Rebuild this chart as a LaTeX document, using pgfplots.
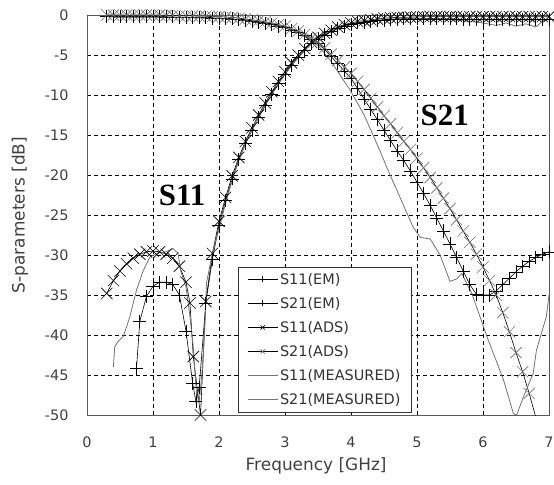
\documentclass[border=0pt]{standalone}
\usepackage{fontspec}
\setmainfont{DejaVu Sans}
\newfontfamily\anno{Liberation Serif}
\usepackage{pgfplots}
\pgfplotsset{compat=1.18}

\begin{document}
\begin{tikzpicture}
\begin{axis}[
  scale only axis, width=462bp, height=400bp,
  xmin=0, xmax=7, ymin=-50, ymax=0,
  xtick={0,1,...,7}, ytick={-50,-45,...,0},
  major tick length=0pt,
  /pgf/number format/assume math mode=true,
  tick label style={font=\fontsize{14.5}{16}\selectfont, text=black!75},
  xticklabel style={anchor=center, yshift=-27bp},
  yticklabel style={anchor=east, xshift=-15bp},
  xlabel={Frequency [GHz]}, ylabel={S-parameters [dB]},
  label style={font=\fontsize{17}{19}\selectfont, text=black!75},
  xlabel style={at={(axis description cs:0.496,-0.127)}, anchor=center},
  ylabel style={at={(axis description cs:-0.145,0.5)}, anchor=center},
  grid=major, major grid style={black, line width=0.6bp, dash pattern=on 4bp off 3bp},
  axis line style={black!65, line width=0.8bp},
  legend style={at={(axis description cs:0.327,0.0075)}, anchor=south west,
    draw=black!80, fill=white, font=\fontsize{14.5}{16}\selectfont, text=black!80,
    row sep=7.6bp, inner xsep=9bp, inner ysep=4bp},
  legend cell align=left,
  legend image code/.code={\draw[mark repeat=2,mark phase=2,#1,mark size=3bp]
    plot coordinates {(0bp,0bp) (15bp,0bp) (30bp,0bp)};},
]
% S11(EM)
\addplot[black, line width=0.6bp, mark=+, mark size=6.5bp] table {
0.75 -44.2
0.8 -38.3
0.9 -35.2
1.0 -33.9
1.1 -33.4
1.2 -33.4
1.3 -33.7
1.4 -35.0
1.5 -39.5
1.6 -46.0
1.65 -48.3
1.7 -46.5
1.8 -36.0
1.9 -30.5
2.0 -26.3
2.1 -23.2
2.2 -20.5
2.3 -18.1
2.4 -16.1
2.5 -14.4
2.6 -12.8
2.7 -11.3
2.8 -9.9
2.9 -8.6
3.0 -7.4
3.1 -6.3
3.2 -5.3
3.3 -4.4
3.4 -3.6
3.5 -3.0
3.6 -2.5
3.7 -2.1
3.8 -1.7
3.9 -1.4
4.0 -1.2
4.1 -1.0
4.2 -0.9
4.3 -0.8
4.4 -0.7
4.5 -0.65
4.6 -0.6
4.7 -0.55
4.8 -0.5
4.9 -0.5
5.0 -0.5
5.1 -0.5
5.2 -0.5
5.3 -0.5
5.4 -0.5
5.5 -0.5
5.6 -0.5
5.7 -0.55
5.8 -0.55
5.9 -0.6
6.0 -0.6
6.1 -0.6
6.2 -0.6
6.3 -0.6
6.4 -0.6
6.5 -0.6
6.6 -0.6
6.7 -0.6
6.8 -0.6
6.9 -0.6
7.0 -0.6
};
\addlegendentry{S11(EM)}
% S21(EM)
\addplot[black, line width=0.6bp, mark=+, mark size=6.5bp] table {
0.3 -0.2
0.4 -0.2
0.5 -0.2
0.6 -0.2
0.7 -0.2
0.8 -0.2
0.9 -0.2
1.0 -0.2
1.1 -0.2
1.2 -0.25
1.3 -0.25
1.4 -0.3
1.5 -0.3
1.6 -0.3
1.7 -0.35
1.8 -0.35
1.9 -0.4
2.0 -0.4
2.1 -0.45
2.2 -0.5
2.3 -0.6
2.4 -0.7
2.5 -0.8
2.6 -0.9
2.7 -1.05
2.8 -1.2
2.9 -1.4
3.0 -1.6
3.1 -1.9
3.2 -2.2
3.3 -2.6
3.4 -3.1
3.5 -3.6
3.6 -4.3
3.7 -5.2
3.8 -6.1
3.9 -7.0
4.0 -7.9
4.1 -9.2
4.2 -10.5
4.3 -11.8
4.4 -13.1
4.5 -14.4
4.6 -15.7
4.7 -17.0
4.8 -18.2
4.9 -19.5
5.0 -20.9
5.1 -22.3
5.2 -23.8
5.3 -25.4
5.4 -27.0
5.5 -28.6
5.6 -30.3
5.7 -32.0
5.8 -33.7
5.9 -34.9
6.0 -35.0
6.1 -35.0
6.2 -34.5
6.3 -33.7
6.4 -32.9
6.5 -32.1
6.6 -31.4
6.7 -30.8
6.8 -30.3
6.9 -29.9
7.0 -29.6
};
\addlegendentry{S21(EM)}
% S11(ADS)
\addplot[black, line width=0.6bp, mark=x, mark size=8bp] table {
0.3 -34.8
0.4 -33.2
0.5 -32.0
0.6 -31.1
0.7 -30.4
0.8 -29.9
0.9 -29.6
1.0 -29.5
1.1 -29.6
1.2 -29.9
1.3 -30.4
1.4 -31.4
1.5 -33.4
1.56 -36.0
1.61 -42.7
1.72 -50.0
1.8 -35.8
1.9 -29.8
2.0 -25.8
2.1 -22.8
2.2 -20.1
2.3 -17.8
2.4 -15.8
2.5 -14.1
2.6 -12.5
2.7 -11.0
2.8 -9.6
2.9 -8.3
3.0 -7.1
3.1 -6.0
3.2 -5.0
3.3 -4.2
3.4 -3.4
3.5 -2.8
3.6 -2.3
3.7 -1.9
3.8 -1.5
3.9 -1.2
4.0 -1.0
4.1 -0.8
4.2 -0.7
4.3 -0.6
4.4 -0.5
4.5 -0.4
4.6 -0.35
4.7 -0.3
4.8 -0.3
4.9 -0.25
5.0 -0.25
5.1 -0.2
5.2 -0.2
5.3 -0.2
5.4 -0.2
5.5 -0.2
5.6 -0.2
5.7 -0.2
5.8 -0.2
5.9 -0.2
6.0 -0.2
6.1 -0.2
6.2 -0.2
6.3 -0.2
6.4 -0.2
6.5 -0.2
6.6 -0.2
6.7 -0.2
6.8 -0.2
6.9 -0.2
7.0 -0.2
};
\addlegendentry{S11(ADS)}
% S21(ADS)
\addplot[black, line width=0.6bp, mark=x, mark size=8bp, mark options={black!55}] table {
0.3 0
0.4 0
0.5 0
0.6 0
0.7 0
0.8 0
0.9 0
1.0 0
1.1 0
1.2 -0.05
1.3 -0.05
1.4 -0.1
1.5 -0.1
1.6 -0.1
1.7 -0.15
1.8 -0.15
1.9 -0.2
2.0 -0.2
2.1 -0.25
2.2 -0.3
2.3 -0.4
2.4 -0.5
2.5 -0.6
2.6 -0.7
2.7 -0.85
2.8 -1.0
2.9 -1.2
3.0 -1.4
3.1 -1.7
3.2 -2.0
3.3 -2.4
3.4 -2.9
3.5 -3.4
3.6 -4.1
3.7 -4.9
3.8 -5.7
3.9 -6.5
4.0 -7.3
4.1 -8.3
4.2 -9.3
4.3 -10.4
4.4 -11.5
4.5 -12.6
4.6 -13.6
4.7 -14.7
4.8 -15.8
4.9 -16.8
5.0 -17.9
5.1 -19.1
5.2 -20.3
5.3 -21.6
5.4 -22.9
5.5 -24.2
5.6 -25.6
5.7 -27.0
5.8 -28.4
5.9 -29.9
6.0 -31.5
6.1 -33.2
6.2 -35.0
6.3 -37.2
6.4 -39.6
6.5 -42.2
6.6 -44.6
6.7 -47.3
6.8 -50.3
};
\addlegendentry{S21(ADS)}
% S11(MEASURED)
\addplot[black!55, line width=0.8bp] table {
0.4 -44.0
0.42 -41.5
0.47 -40.8
0.55 -40.2
0.65 -37.7
0.75 -34.4
0.85 -32.0
0.95 -30.3
1.05 -29.8
1.2 -29.6
1.3 -29.2
1.38 -29.8
1.42 -32.0
1.5 -34.0
1.56 -37.7
1.61 -41.5
1.66 -47.5
1.7 -48.3
1.74 -45.0
1.78 -40.0
1.81 -33.5
1.91 -29.4
2.0 -26.8
2.1 -23.5
2.2 -20.7
2.3 -18.2
2.4 -16.1
2.5 -14.4
2.6 -12.8
2.7 -11.3
2.8 -9.9
2.9 -8.6
3.0 -7.4
3.2 -5.3
3.4 -3.6
3.6 -2.4
3.8 -1.6
4.0 -1.1
4.3 -0.7
4.6 -0.5
5.0 -0.4
5.4 -0.5
5.8 -0.8
6.0 -1.0
6.2 -1.3
6.35 -1.0
6.5 -1.4
6.65 -1.1
6.8 -1.5
6.9 -0.8
7.0 -0.5
};
\addlegendentry{S11(MEASURED)}
% S21(MEASURED)
\addplot[black!55, line width=0.8bp] table {
0.4 -0.3
1.0 -0.3
1.5 -0.3
2.0 -0.4
2.5 -0.7
2.8 -1.0
3.0 -1.4
3.2 -2.2
3.4 -3.2
3.5 -3.8
3.68 -5.6
3.98 -9.3
4.2 -12.5
4.44 -17.0
4.54 -19.0
4.7 -22.0
4.94 -26.5
5.05 -27.8
5.2 -28.0
5.35 -30.0
5.5 -33.3
5.6 -33.0
5.68 -32.3
5.75 -33.5
5.83 -34.8
6.06 -40.2
6.31 -45.6
6.46 -49.8
6.51 -50.0
6.6 -48.0
6.76 -44.8
6.81 -41.9
6.96 -37.7
7.0 -35.0
};
\addlegendentry{S21(MEASURED)}
\node[font=\anno\bfseries\fontsize{31}{33}\selectfont] at (axis cs:1.44,-22.6) {S11};
\node[font=\anno\bfseries\fontsize{31}{33}\selectfont] at (axis cs:5.42,-12.5) {S21};
\end{axis}
\pgfresetboundingbox
\path[use as bounding box] (-87bp,-70bp) rectangle (467bp,415bp);
\end{tikzpicture}
\end{document}
